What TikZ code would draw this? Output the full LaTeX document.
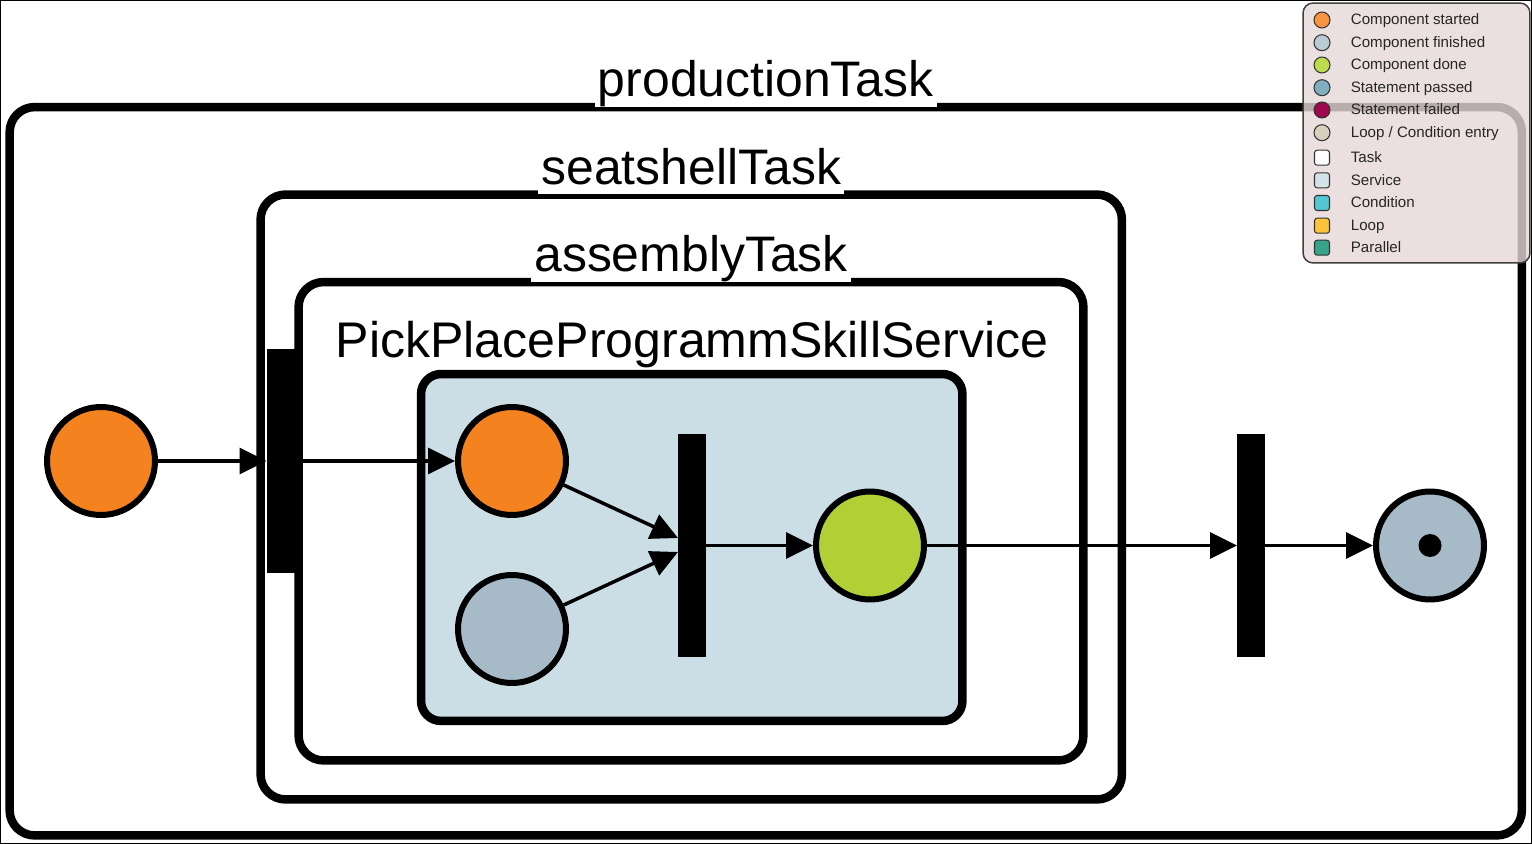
\documentclass[tikz,border=0pt]{standalone}
\usepackage{fontspec}
\setmainfont{Liberation Sans}
\usetikzlibrary{arrows.meta,positioning}

\definecolor{runorange}{HTML}{F4831F}
\definecolor{rungray}{HTML}{A6BAC7}
\definecolor{rungreen}{HTML}{B2CF35}
\definecolor{servblue}{HTML}{CBDEE5}
\definecolor{legendbg}{HTML}{E6D8D8}
\definecolor{lgstarted}{HTML}{F7953F}
\definecolor{lgfinished}{HTML}{B9CCD6}
\definecolor{lgdone}{HTML}{BDDB4D}
\definecolor{lgpassed}{HTML}{7FAFC0}
\definecolor{lgfailed}{HTML}{A0084E}
\definecolor{lgentry}{HTML}{D8CFBD}
\definecolor{lgservice}{HTML}{D4E3EA}
\definecolor{lgcondition}{HTML}{53C8D3}
\definecolor{lgloop}{HTML}{FBC43A}
\definecolor{lgparallel}{HTML}{36A38A}

\begin{document}
\begin{tikzpicture}[
    x=0.02cm, y=-0.02cm,
    task/.style={draw, line width=0.17cm, rounded corners=0.5cm,
                 fill=white, outer sep=0, inner sep=0},
    service/.style={draw, line width=0.17cm, rounded corners=0.4cm,
                    fill=servblue, outer sep=0, inner sep=0},
    tlabel/.style={fill=white, anchor=south, inner xsep=0.06cm, inner ysep=0.04cm,
                   text depth=0.16cm, font=\fontsize{28.4pt}{30pt}\selectfont},
    comp/.style={circle, draw, line width=0.12cm, minimum size=2.16cm, inner sep=0},
    bar/.style={fill=black, minimum width=0.56cm, minimum height=4.48cm,
                inner sep=0, outer sep=0},
    arr/.style={-{Triangle[length=0.54cm, width=0.52cm]}, line width=0.07cm},
    lgdot/.style={circle, draw=black!80, line width=0.6pt, minimum size=0.32cm, inner sep=0},
    lgsq/.style={draw=black!80, line width=0.6pt, rounded corners=1.5pt,
                 minimum size=0.3cm, inner sep=0},
    lgtext/.style={anchor=base west, inner sep=0, text=black!85,
                   font=\fontsize{8.6pt}{10pt}\selectfont}
]
\useasboundingbox (0,0) rectangle (1532,844);
\draw[line width=0.02cm] (0.5,0.5) rectangle (1531.5,843.5);

% Boxes
\node[task, minimum width=30.25cm, minimum height=14.57cm] (prod) at (765.75,471.25) {};
\node[tlabel] (prodlbl) at (prod.north) {productionTask};

\node[task, minimum width=17.23cm, minimum height=12.1cm] (seat) at (691.25,497) {};
\node[tlabel] (seatlbl) at (seat.north) {seatshellTask};

\node[task, minimum width=15.7cm, minimum height=9.57cm] (asm) at (691,521.25) {};
\node[tlabel] (asmlbl) at (asm.north) {assemblyTask};

\node[anchor=base, inner sep=0, font=\fontsize{28.5pt}{30pt}\selectfont] (servlbl)
    at (692,358) {PickPlaceProgrammSkillService};
\node[service, minimum width=10.83cm, minimum height=6.94cm] (serv) at (691.75,547.5) {};

% Bars
\node[bar] (bar1) at (280.5,461) {};
\node[bar] (bar2) at (692,545.5) {};
\node[bar] (bar3) at (1251,545.5) {};

% Components
\node[comp, fill=runorange] (start) at (101,461) {};
\node[comp, fill=runorange] (cs1) at (512,461) {};
\node[comp, fill=rungray] (cf1) at (512,629) {};
\node[comp, fill=rungreen] (cd1) at (870,545.5) {};
\node[comp, fill=rungray] (endc) at (1430,545.5) {};
\node[circle, fill=black, minimum size=0.46cm, inner sep=0] (enddot) at (endc) {};

% Flow
\draw[arr] (start) -- (bar1.west);
\draw[arr] (bar1.east) -- (cs1.west);
\draw[arr] (cs1) -- ([yshift=0.15cm]bar2.west);
\draw[arr] (cf1) -- ([yshift=-0.13cm]bar2.west);
\draw[arr] (bar2.east) -- (cd1.west);
\draw[arr] (cd1.east) -- (bar3.west);
\draw[arr] (bar3.east) -- (endc.west);

% Legend
\node[draw=black!75, line width=0.03cm, fill=legendbg, fill opacity=0.8,
      rounded corners=0.2cm, minimum width=4.54cm, minimum height=5.2cm,
      inner sep=0] (legend) at (1416.5,133) {};

\node[lgdot, fill=lgstarted] (lg1) at (1322,20) {};
\node[lgtext] (lt1) at (1350.5,25) {Component started};
\node[lgdot, fill=lgfinished] (lg2) at (1322,42.7) {};
\node[lgtext] (lt2) at (1350.5,47.7) {Component finished};
\node[lgdot, fill=lgdone] (lg3) at (1322,65) {};
\node[lgtext] (lt3) at (1350.5,70) {Component done};
\node[lgdot, fill=lgpassed] (lg4) at (1322,87.7) {};
\node[lgtext] (lt4) at (1350.5,92.7) {Statement passed};
\node[lgdot, fill=lgfailed] (lg5) at (1322,110) {};
\node[lgtext] (lt5) at (1350.5,115) {Statement failed};
\node[lgdot, fill=lgentry] (lg6) at (1322,132.7) {};
\node[lgtext] (lt6) at (1350.5,137.7) {Loop / Condition entry};
\node[lgsq, fill=white] (lg7) at (1322,157.7) {};
\node[lgtext] (lt7) at (1350.5,162.7) {Task};
\node[lgsq, fill=lgservice] (lg8) at (1322,180.3) {};
\node[lgtext] (lt8) at (1350.5,185.3) {Service};
\node[lgsq, fill=lgcondition] (lg9) at (1322,203) {};
\node[lgtext] (lt9) at (1350.5,208) {Condition};
\node[lgsq, fill=lgloop] (lg10) at (1322,225.7) {};
\node[lgtext] (lt10) at (1350.5,230.7) {Loop};
\node[lgsq, fill=lgparallel] (lg11) at (1322,247.7) {};
\node[lgtext] (lt11) at (1350.5,252.7) {Parallel};
\end{tikzpicture}
\end{document}
